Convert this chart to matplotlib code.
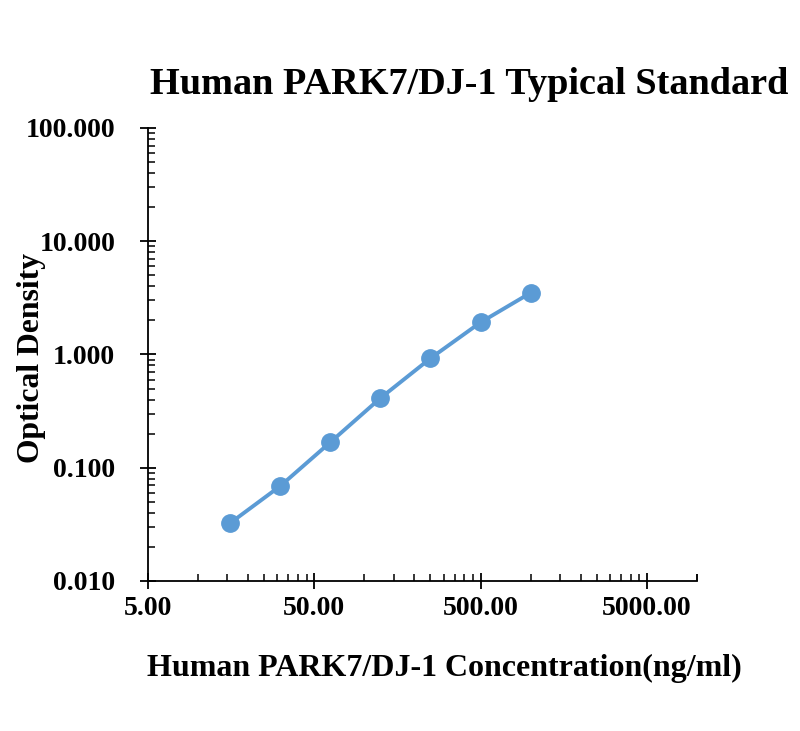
import matplotlib.pyplot as plt
import numpy as np
from matplotlib.ticker import FixedLocator, FuncFormatter, LogLocator

# standard curve
conc = [15.625, 31.25, 62.5, 125, 250, 500, 1000]
od = [0.0325, 0.069, 0.168, 0.412, 0.925, 1.92, 3.50]

x_major = [5, 50, 500, 5000]
y_major = [0.01, 0.1, 1, 10, 100]

plt.rcParams['font.family'] = ['Liberation Serif', 'DejaVu Serif']
plt.rcParams['font.weight'] = 'bold'

fig = plt.figure(figsize=(8, 7.31), dpi=100)
ax = fig.add_axes([0.185, 0.2052, 0.686, 0.6197])

ax.plot(conc, od, color='#5B9BD5', lw=2.8, marker='o', markersize=12.5,
        markerfacecolor='#5B9BD5', markeredgecolor='#5B9BD5')

ax.set_xscale('log')
ax.set_yscale('log')
ax.set_xlim(5, 10000)
ax.set_ylim(0.01, 100)

ax.xaxis.set_major_locator(FixedLocator(x_major))
minors = [m * k for m in [5, 50, 500, 5000] for k in range(2, 10)] + [10000]
ax.xaxis.set_minor_locator(FixedLocator(minors))
ax.xaxis.set_major_formatter(FuncFormatter(lambda v, p: f'{v:.2f}'))
ax.xaxis.set_minor_formatter(FuncFormatter(lambda v, p: ''))

ax.yaxis.set_major_locator(FixedLocator(y_major))
ax.yaxis.set_minor_locator(LogLocator(base=10, subs=np.arange(2, 10)))
ax.yaxis.set_major_formatter(FuncFormatter(lambda v, p: f'{v:.3f}'))
ax.yaxis.set_minor_formatter(FuncFormatter(lambda v, p: ''))

for s in ['top', 'right']:
    ax.spines[s].set_visible(False)
for s in ['left', 'bottom']:
    ax.spines[s].set_linewidth(1.3)

ax.tick_params(axis='both', which='major', direction='inout', length=11,
               width=1.3, labelsize=20)
ax.tick_params(axis='both', which='minor', direction='in', length=5, width=1.1)
ax.tick_params(axis='y', which='major', pad=18)
ax.tick_params(axis='x', which='major', pad=5)
for lab in ax.get_xticklabels() + ax.get_yticklabels():
    lab.set_fontweight('bold')

fig.text(0.586, 0.885, 'Human PARK7/DJ-1 Typical Standard', ha='center',
         va='center', fontsize=27.5, fontweight='bold')
fig.text(0.555, 0.086, 'Human PARK7/DJ-1 Concentration(ng/ml)', ha='center',
         va='center', fontsize=23, fontweight='bold')
fig.text(0.04, 0.51, 'Optical Density', ha='center', va='center',
         rotation=90, fontsize=22.8, fontweight='bold')

fig.savefig('out.png', dpi=100)
